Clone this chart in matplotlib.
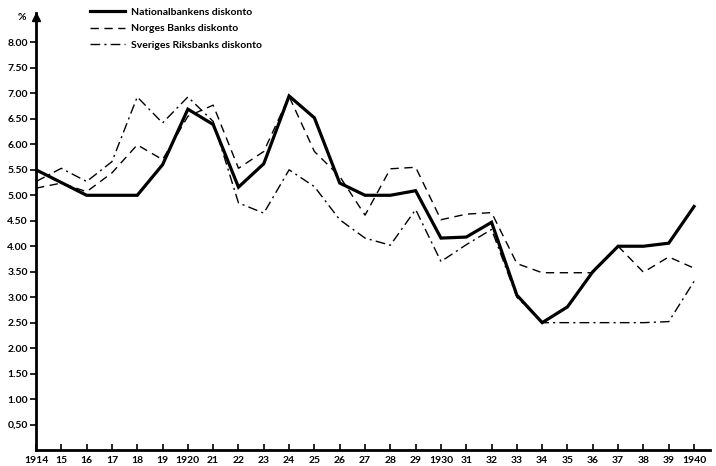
import matplotlib
matplotlib.use("Agg")
import matplotlib.pyplot as plt
import numpy as np

plt.rcParams['font.family'] = ['Lato', 'DejaVu Sans']
plt.rcParams['font.weight'] = 'bold'

years = list(range(1914, 1941))

# discount rates, annual level in per cent
nationalbanken = [5.50, 5.25, 5.00, 5.00, 5.00, 5.60, 6.69, 6.39, 5.16, 5.62,
                  6.95, 6.52, 5.24, 5.00, 5.00, 5.09, 4.16, 4.18, 4.47, 3.04,
                  2.50, 2.81, 3.50, 4.00, 4.00, 4.06, 4.78]
norges_bank = [5.14, 5.24, 5.07, 5.44, 5.99, 5.70, 6.55, 6.77, 5.53, 5.86,
               6.94, 5.86, 5.37, 4.61, 5.52, 5.55, 4.52, 4.63, 4.66, 3.66,
               3.48, 3.48, 3.48, 4.00, 3.49, 3.79, 3.57]
riksbanken = [5.27, 5.53, 5.27, 5.66, 6.93, 6.42, 6.93, 6.45, 4.85, 4.65,
              5.50, 5.17, 4.52, 4.16, 4.02, 4.72, 3.70, 4.03, 4.33, 3.00,
              2.50, 2.50, 2.50, 2.50, 2.50, 2.52, 3.31]

year_labels = ["1914", "15", "16", "17", "18", "19", "1920", "21", "22", "23",
               "24", "25", "26", "27", "28", "29", "1930", "31", "32", "33",
               "34", "35", "36", "37", "38", "39", "1940"]
pct_ticks = np.arange(0.5, 8.01, 0.5)
pct_labels = ["0,50"] + ["%.2f" % v for v in pct_ticks[1:]]

fig = plt.figure(figsize=(7.16, 4.66), dpi=100)
ax = fig.add_axes([0.0503, 0.0343, 0.9413, 0.938])

ax.plot(years, nationalbanken, color="black", lw=2.3, solid_joinstyle="miter",
        label="Nationalbankens diskonto")
ax.plot(years, norges_bank, color="black", lw=1.0, linestyle=(0, (6, 4)),
        label="Norges Banks diskonto")
ax.plot(years, riksbanken, color="black", lw=1.0, linestyle=(0, (7, 3, 1.5, 3)),
        label="Sveriges Riksbanks diskonto")

ax.set_xlim(1914, 1940.63)
ax.set_ylim(0, 8.58)

ax.set_xticks(years)
ax.set_xticklabels(year_labels, fontsize=7.5)
ax.set_yticks(pct_ticks)
ax.set_yticklabels(pct_labels, fontsize=7.5)
ax.tick_params(axis="x", direction="in", length=4, width=1.2, pad=4)
ax.tick_params(axis="y", direction="out", length=4, width=1.2, pad=2)

for side in ("top", "right"):
    ax.spines[side].set_visible(False)
ax.spines["left"].set_linewidth(2)
ax.spines["bottom"].set_linewidth(2)

# arrow head on the y axis
ax.plot(0, 0.99, marker="^", color="black", markersize=6, transform=ax.transAxes,
        clip_on=False)
fig.text(0.03, 0.962, "%", fontsize=7.5, ha="center", va="center")

ax.legend(loc="upper left", bbox_to_anchor=(0.115, 1.0), bbox_transform=fig.transFigure,
          frameon=False, fontsize=7.5, handlelength=3.4, handletextpad=0.6,
          labelspacing=0.7, borderaxespad=0.3)

fig.savefig("out.png", dpi=100)
